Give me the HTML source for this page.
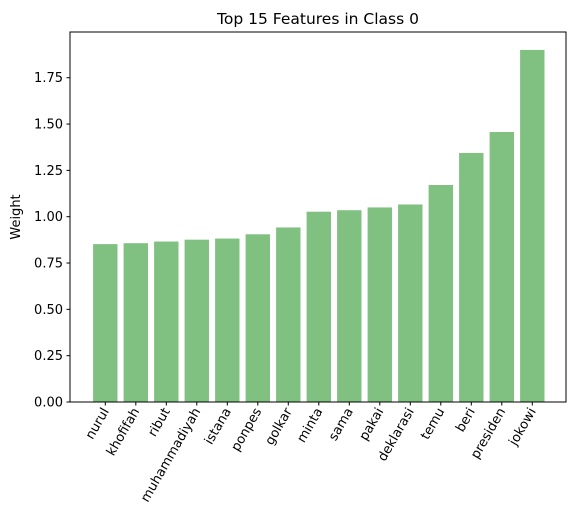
<!DOCTYPE html>
<html><head><meta charset="utf-8"><style>
body{margin:0;background:#fff;}
svg{display:block;font-family:"DejaVu Sans","Liberation Sans",sans-serif;}
</style></head><body>
<svg id="chart" width="579" height="527">
<text x="318" y="24" font-size="15.5" text-anchor="middle">Top 15 Features in Class 0</text>
<text transform="translate(20,217) rotate(-90)" font-size="13" text-anchor="middle">Weight</text>
<g id="bars"></g><g id="yticks"></g><g id="xticks"></g>
<rect x="70" y="32" width="496" height="370" fill="none" stroke="#000" stroke-width="1"/>
</svg>
<script>
const categories=["nurul","khofifah","ribut","muhammadiyah","istana","ponpes","golkar","minta","sama","pakai","deklarasi","temu","beri","presiden","jokowi"];
const values=[0.852,0.857,0.866,0.876,0.882,0.905,0.942,1.027,1.035,1.05,1.066,1.171,1.344,1.457,1.9];
const yTicks=[0,0.25,0.5,0.75,1.0,1.25,1.5,1.75];
const yTickLabels=["0.00","0.25","0.50","0.75","1.00","1.25","1.50","1.75"];
const NS="http://www.w3.org/2000/svg";
function y(v){return 402-v*185.3;}
function x(i){return 105.3+30.5*i;}
const bw=24.4;
const bars=document.getElementById('bars'),yt=document.getElementById('yticks'),xt=document.getElementById('xticks');
values.forEach((v,i)=>{
 const r=document.createElementNS(NS,'rect');
 r.setAttribute('x',x(i)-bw/2);r.setAttribute('y',y(v));r.setAttribute('width',bw);r.setAttribute('height',y(0)-y(v));r.setAttribute('fill','#80c080');
 
 
 bars.appendChild(r);
});
yTicks.forEach((t,i)=>{
 const l=document.createElementNS(NS,'line');
 l.setAttribute('x1',66.5);l.setAttribute('x2',70);l.setAttribute('y1',y(t));l.setAttribute('y2',y(t));l.setAttribute('stroke','#000');
 
 
 yt.appendChild(l);
 const tx=document.createElementNS(NS,'text');
 tx.setAttribute('x',63);tx.setAttribute('y',y(t)+4.5);tx.setAttribute('text-anchor','end');tx.setAttribute('font-size','13');
 tx.textContent=yTickLabels[i];
 
 
 yt.appendChild(tx);
});
categories.forEach((c,i)=>{
 const l=document.createElementNS(NS,'line');
 l.setAttribute('x1',x(i));l.setAttribute('x2',x(i));l.setAttribute('y1',402);l.setAttribute('y2',405.5);l.setAttribute('stroke','#000');
 
 
 xt.appendChild(l);
 const tx=document.createElementNS(NS,'text');
 tx.setAttribute('transform','translate('+(x(i)+4)+',411) rotate(-60)');
 tx.setAttribute('text-anchor','end');tx.setAttribute('font-size','13');
 tx.textContent=c;
 
 
 xt.appendChild(tx);
});
</script>
</body></html>
